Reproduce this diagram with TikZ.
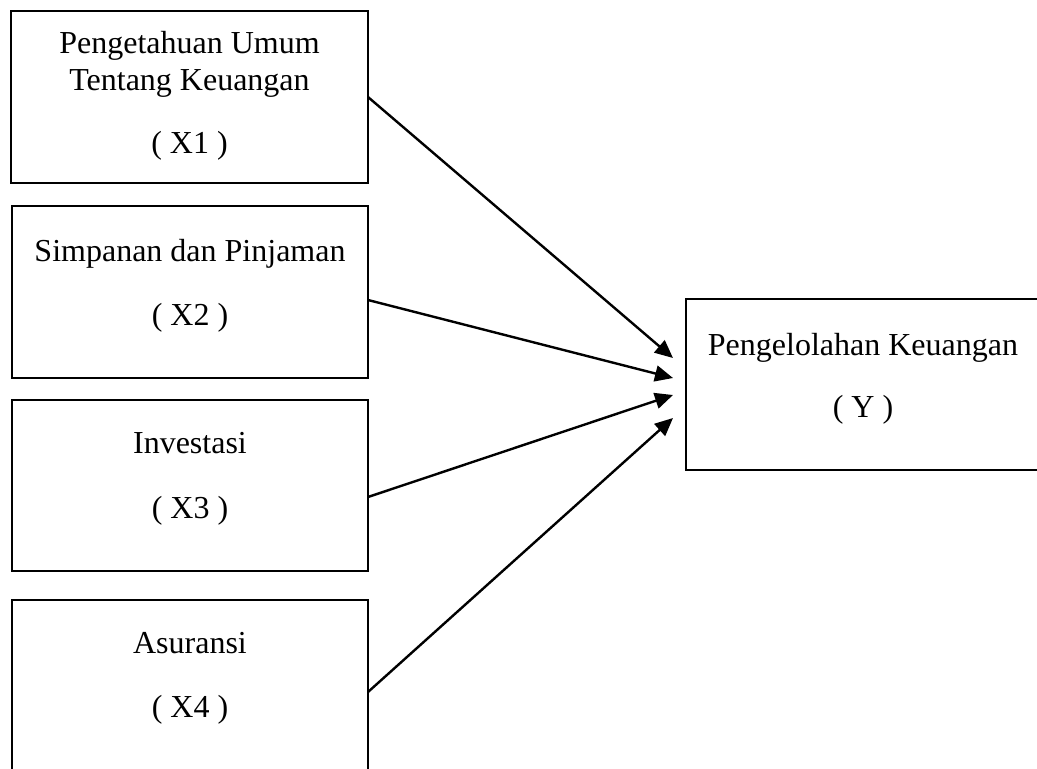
\documentclass[tikz,border=0pt]{standalone}
\usepackage{fontspec}
\setmainfont{Liberation Serif}
\usetikzlibrary{arrows.meta}
\tikzset{
  box/.style={draw=black, line width=2.8pt, inner sep=0pt, fill=none},
  lbl/.style={anchor=base, inner sep=0pt, font=\fontsize{32}{38}\selectfont},
  conn/.style={line width=2.4pt, -{Triangle[length=18pt,width=16pt]}}
}
\begin{document}
\begin{tikzpicture}[x=1pt,y=-1pt]
\useasboundingbox (0,0) rectangle (1037,769);
\clip (0,0) rectangle (1037,769);
% boxes
\node[box, minimum width=357pt, minimum height=172pt] (x1) at (189.5,97) {};
\node[box, minimum width=356pt, minimum height=172pt] (x2) at (190,292) {};
\node[box, minimum width=356pt, minimum height=171pt] (x3) at (190,485.5) {};
\node[box, minimum width=356pt, minimum height=220pt] (x4) at (190,710) {};
\node[box, minimum width=370pt, minimum height=171pt] (y) at (871,384.5) {};
% texts
\node[lbl] (t1a) at (189.5,53) {Pengetahuan Umum};
\node[lbl] (t1b) at (189.5,90) {Tentang Keuangan};
\node[lbl] (t1c) at (189.5,153) {( X1 )};
\node[lbl] (t2a) at (190,261) {Simpanan dan Pinjaman};
\node[lbl] (t2b) at (190,325) {( X2 )};
\node[lbl] (t3a) at (190,453) {Investasi};
\node[lbl] (t3b) at (190,518) {( X3 )};
\node[lbl] (t4a) at (190,653) {Asuransi};
\node[lbl] (t4b) at (190,717) {( X4 )};
\node[lbl] (tya) at (863,355) {Pengelolahan Keuangan};
\node[lbl] (tyb) at (863,417) {( Y )};
% connector ends
\coordinate (s1) at (368,97);
\coordinate (s2) at (368,300);
\coordinate (s3) at (368,497);
\coordinate (s4) at (368,692);
\coordinate (e1) at (673,358);
\coordinate (e2) at (673,378);
\coordinate (e3) at (673,395);
\coordinate (e4) at (673,418);
\draw[conn] (s1) -- (e1);
\draw[conn] (s2) -- (e2);
\draw[conn] (s3) -- (e3);
\draw[conn] (s4) -- (e4);
\end{tikzpicture}
\end{document}
